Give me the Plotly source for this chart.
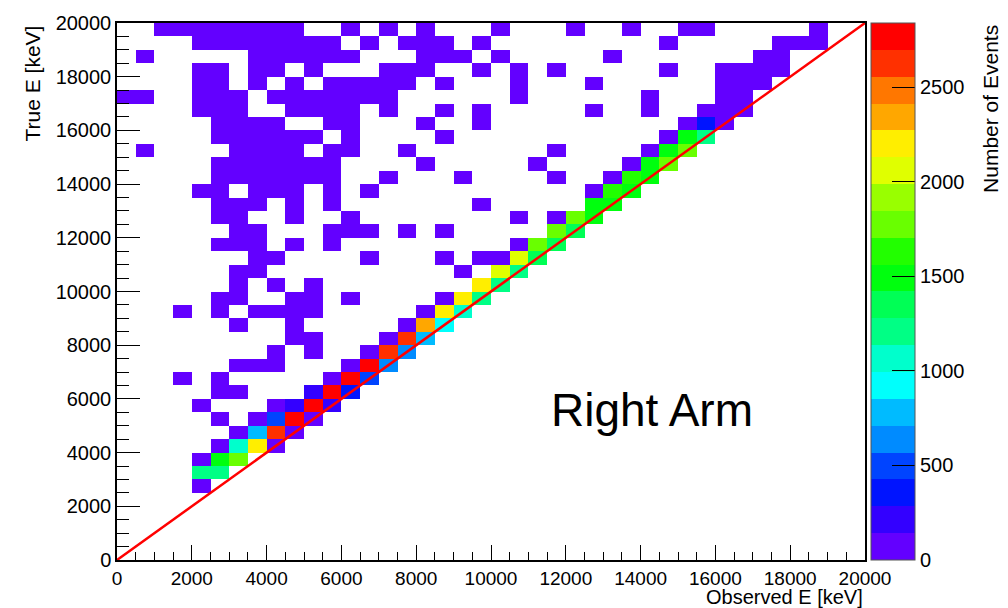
import numpy as np
import plotly.graph_objects as go

# Binning: 40 x 40 bins of 500 keV from 0 to 20000 keV on both axes
BIN_WIDTH = 500
N_BINS = 40

# Response band near the diagonal: (true E bin low edge, observed E bin low edge, events)
diag_true = [3000, 3000, 3500, 3500, 4000, 4000, 4500, 4500, 5000, 5000,
             5500, 5500, 5500, 6000, 6000, 6000, 6500, 6500, 7000, 7000,
             7500, 7500, 8000, 8000, 8500, 8500, 9000, 9000, 9500, 9500,
             10000, 10000, 10500, 10500, 11000, 11000, 11500, 11500, 12000, 12000,
             12500, 12500, 13000, 13000, 13500, 13500, 14000, 14000, 14500, 14500,
             15000, 15000, 15500, 15500, 16000]
diag_obs = [2000, 2500, 2500, 3000, 3000, 3500, 3500, 4000, 4000, 4500,
            4500, 5000, 5500, 5000, 5500, 6000, 6000, 6500, 6500, 7000,
            7000, 7500, 7500, 8000, 8000, 8500, 8500, 9000, 9000, 9500,
            9500, 10000, 10000, 10500, 10500, 11000, 11000, 11500, 11500, 12000,
            12000, 12500, 12500, 13000, 13000, 13500, 13500, 14000, 14000, 14500,
            14500, 15000, 15000, 15500, 15500]
diag_counts = [1200, 1210, 1490, 1780, 1060, 2200, 780, 2630, 500, 2790,
               210, 2810, 190, 200, 2770, 350, 2800, 480, 2760, 640,
               2620, 620, 2600, 790, 2350, 920, 2200, 1060, 2190, 1200,
               2180, 1210, 2060, 1230, 2050, 1330, 1780, 1350, 1770, 1410,
               1760, 1500, 1560, 1520, 1630, 1540, 1650, 1500, 1480, 1760,
               1490, 1760, 1430, 1200, 340]

# Sparse tail (low-count bins), keyed by true E bin low edge [keV]:
# list of observed E bin low edges [keV] and the events in each
tail_high = {
    19500: ([1000, 1500, 2000, 2500, 3000, 3500, 4000, 4500, 6000, 7000, 8000, 10000, 12000, 13500, 15000, 15500, 18500],
            [4, 6, 5, 7, 6, 8, 5, 4, 3, 4, 3, 2, 3, 2, 3, 4, 5]),
    19000: ([2000, 2500, 3000, 3500, 4000, 4500, 5000, 5500, 6500, 7500, 8000, 8500, 9500, 14500, 17500, 18000, 18500],
            [5, 7, 6, 8, 9, 6, 5, 4, 3, 4, 5, 3, 2, 3, 6, 8, 7]),
    18500: ([500, 3500, 4000, 4500, 5000, 5500, 6000, 8000, 8500, 9000, 10000, 13000, 17000, 17500],
            [2, 6, 7, 8, 6, 5, 4, 3, 4, 3, 2, 3, 9, 11]),
    18000: ([2000, 2500, 3500, 4000, 5000, 7000, 7500, 8000, 9500, 10500, 11500, 14500, 16000, 16500, 17000, 17500],
            [5, 6, 7, 5, 4, 3, 4, 3, 2, 3, 2, 3, 10, 12, 14, 9]),
    17500: ([2000, 2500, 3500, 4500, 5500, 6000, 6500, 7000, 7500, 8500, 10500, 12500, 16000, 16500, 17000],
            [6, 7, 5, 6, 4, 5, 3, 4, 3, 2, 3, 2, 14, 18, 16]),
}
tail_upper = {
    17000: ([0, 500, 2000, 2500, 3000, 4000, 4500, 5000, 5500, 6000, 6500, 7000, 10500, 14000, 16000, 16500],
            [3, 4, 7, 8, 6, 7, 6, 5, 6, 4, 5, 3, 2, 3, 20, 24]),
    16500: ([2000, 2500, 3000, 4500, 5000, 5500, 6000, 7000, 8500, 9500, 12500, 14000, 15500, 16000, 16500],
            [6, 9, 8, 7, 6, 5, 7, 4, 3, 3, 2, 3, 30, 45, 60]),
    16000: ([2500, 3000, 3500, 4000, 5500, 6000, 8000, 9500, 15000, 16000],
            [8, 9, 7, 6, 6, 5, 3, 3, 60, 110]),
    15500: ([2500, 3000, 3500, 4000, 4500, 5000, 6000, 8500, 14500],
            [7, 9, 10, 8, 7, 6, 5, 3, 80]),
    15000: ([500, 3000, 3500, 4000, 4500, 5500, 6000, 7500, 11500, 14000],
            [3, 8, 9, 10, 7, 6, 5, 3, 2, 90]),
    14500: ([2500, 3000, 3500, 4000, 4500, 5000, 5500, 8000, 11000, 13500],
            [6, 10, 11, 9, 8, 7, 6, 3, 3, 100]),
    14000: ([2500, 3000, 3500, 4000, 4500, 5000, 5500, 7000, 9000, 11500, 13000],
            [7, 9, 12, 10, 9, 8, 6, 3, 3, 4, 110]),
    13500: ([2000, 2500, 3500, 4000, 4500, 5500, 6500, 12500],
            [5, 8, 9, 10, 8, 6, 4, 100]),
}
tail_lower = {
    13000: ([2500, 3000, 3500, 4500, 5500, 9500], [7, 9, 10, 8, 6, 4]),
    12500: ([2500, 3000, 4500, 6000, 10500, 11500], [8, 9, 7, 5, 4, 110]),
    12000: ([3000, 3500, 5500, 6000, 6500, 7500, 8500], [9, 11, 7, 6, 5, 4, 3]),
    11500: ([2500, 3000, 3500, 4500, 5500, 10500], [8, 10, 11, 8, 6, 120]),
    11000: ([3500, 4000, 6500, 8500, 9500, 10000], [10, 9, 5, 4, 90, 120]),
    10500: ([3000, 3500, 9000], [9, 11, 110]),
    10000: ([3000, 4000, 5000], [10, 9, 7]),
    9500: ([2500, 3000, 4500, 5000, 6000, 8500], [9, 11, 9, 8, 6, 120]),
    9000: ([1500, 2500, 3500, 4000, 4500, 5000, 8000], [5, 10, 11, 12, 9, 8, 120]),
    8500: ([3000, 4500, 7500], [12, 10, 130]),
    8000: ([4500, 5000, 7000], [11, 9, 120]),
    7500: ([4000, 5000, 6500], [13, 10, 110]),
    7000: ([3000, 3500, 4000, 6000], [12, 14, 15, 100]),
    6500: ([1500, 2500, 5500], [8, 14, 90]),
    6000: ([2500, 3000], [15, 16]),
    5500: ([2000, 4000], [14, 80]),
    5000: ([2500, 3500, 5000], [20, 30, 90]),
    4500: ([3000, 4500], [35, 70]),
    4000: ([2500, 4000], [60, 60]),
    3500: ([2000], [80]),
    2500: ([2000], [60]),
}

# Colour bands of the palette (20 contour levels, violet -> red)
band_colors = ["#6300FF", "#3300FF", "#0014FF", "#0044FF", "#008BFF",
               "#00BBFF", "#00FFFC", "#00FFCC", "#00FF85", "#00FF55",
               "#00FF0E", "#22FF00", "#69FF00", "#99FF00", "#E0FF00",
               "#FFEE00", "#FFA700", "#FF7700", "#FF3000", "#FF0000"]
Z_MAX = 2840
axis_ticks = [0, 2000, 4000, 6000, 8000, 10000, 12000, 14000, 16000, 18000, 20000]
axis_ticktext = ["0", "2000", "4000", "6000", "8000", "10000", "12000",
                 "14000", "16000", "18000", "20000"]
cbar_ticks = [0, 500, 1000, 1500, 2000, 2500]

# Fill the 2D histogram; empty bins stay NaN (not drawn)
z = np.full((N_BINS, N_BINS), np.nan)
for t, o, c in zip(diag_true, diag_obs, diag_counts):
    z[t // BIN_WIDTH, o // BIN_WIDTH] = c
for table in (tail_high, tail_upper, tail_lower):
    for t, (obs, counts) in table.items():
        for o, c in zip(obs, counts):
            if np.isnan(z[t // BIN_WIDTH, o // BIN_WIDTH]):
                z[t // BIN_WIDTH, o // BIN_WIDTH] = c

n_band = len(band_colors)
colorscale = []
for k, col in enumerate(band_colors):
    colorscale.append([k / n_band, col])
    colorscale.append([(k + 1) / n_band, col])

FONT = "Liberation Sans, Arial, Helvetica, sans-serif"

fig = go.Figure()
fig.add_trace(go.Heatmap(
    z=z,
    x0=BIN_WIDTH / 2, dx=BIN_WIDTH,
    y0=BIN_WIDTH / 2, dy=BIN_WIDTH,
    zmin=0, zmax=Z_MAX,
    colorscale=colorscale,
    hoverongaps=False,
    colorbar=dict(
        thickness=44, thicknessmode="pixels",
        len=1, lenmode="fraction",
        x=1.008, xanchor="left", xpad=0,
        y=0.5, yanchor="middle", ypad=0,
        tickvals=cbar_ticks,
        ticktext=[str(v) for v in cbar_ticks],
        ticks="inside", ticklen=23, tickcolor="black", tickwidth=1,
        tickfont=dict(size=20, family=FONT, color="black"),
        outlinewidth=1, outlinecolor="#555555",
    ),
))

# Observed = true reference line
fig.add_shape(type="line", x0=0, y0=0, x1=20000, y1=20000,
              xref="x", yref="y", line=dict(color="#FF0000", width=2.5), layer="above")

axis_common = dict(
    range=[0, 20000],
    tickvals=axis_ticks,
    ticktext=axis_ticktext,
    ticks="inside", tickcolor="black", tickwidth=1,
    showgrid=False, zeroline=False,
    showline=True, linecolor="black", linewidth=1.5, mirror=True,
)
fig.update_xaxes(**axis_common, ticklen=15,
                 tickfont=dict(size=19, family=FONT, color="black"),
                 minor=dict(dtick=500, ticks="inside", ticklen=8, tickcolor="black", showgrid=False))
fig.update_yaxes(**axis_common, ticklen=23,
                 tickfont=dict(size=20, family=FONT, color="black"),
                 minor=dict(dtick=500, ticks="inside", ticklen=12, tickcolor="black", showgrid=False))

fig.add_annotation(text="Right Arm", x=11550, y=5590, xref="x", yref="y",
                   xanchor="left", yanchor="middle", showarrow=False,
                   font=dict(size=46, family=FONT, color="black"))
fig.add_annotation(text="Observed E [keV]", x=1, y=-0.069, xref="paper", yref="paper",
                   xanchor="right", yanchor="middle", showarrow=False,
                   font=dict(size=20, family=FONT, color="black"))
fig.add_annotation(text="True E [keV]", x=-0.113, y=1, xref="paper", yref="paper",
                   xanchor="center", yanchor="top", textangle=-90, showarrow=False,
                   font=dict(size=21, family=FONT, color="black"))
fig.add_annotation(text="Number of Events", x=1.167, y=1, xref="paper", yref="paper",
                   xanchor="center", yanchor="top", textangle=-90, showarrow=False,
                   font=dict(size=21, family=FONT, color="black"))

fig.update_layout(
    width=1008, height=608,
    margin=dict(l=117, r=143, t=15, b=48),
    plot_bgcolor="white", paper_bgcolor="white",
    font=dict(family=FONT),
)

fig.write_html("out.html")
